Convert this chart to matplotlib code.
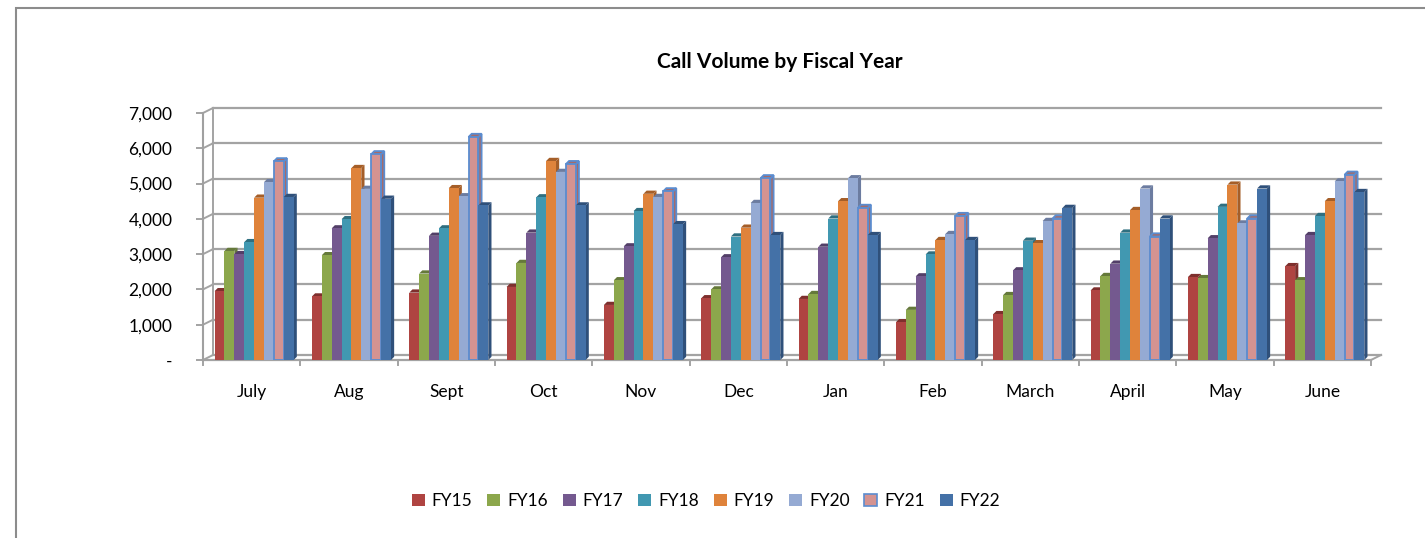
import matplotlib
matplotlib.use("Agg")
import matplotlib.pyplot as plt
import numpy as np
from matplotlib.patches import Polygon, Patch, Rectangle

plt.rcParams['font.family'] = ['Lato', 'DejaVu Sans']

months = ["July", "Aug", "Sept", "Oct", "Nov", "Dec", "Jan", "Feb", "March", "April", "May", "June"]
series_names = ["FY15", "FY16", "FY17", "FY18", "FY19", "FY20", "FY21", "FY22"]

fy15 = [1950, 1800, 1910, 2070, 1560, 1750, 1730, 1070, 1300, 1970, 2350, 2660]
fy16 = [3090, 2970, 2450, 2750, 2260, 2000, 1870, 1420, 1840, 2380, 2320, 2260]
fy17 = [3000, 3730, 3520, 3610, 3220, 2910, 3210, 2370, 2540, 2730, 3450, 3540]
fy18 = [3340, 3990, 3730, 4610, 4220, 3500, 4010, 2990, 3380, 3610, 4340, 4080]
fy19 = [4600, 5440, 4870, 5640, 4710, 3750, 4500, 3400, 3310, 4250, 4970, 4500]
fy20 = [5040, 4850, 4640, 5330, 4620, 4450, 5150, 3570, 3940, 4860, 3870, 5060]
fy21 = [5630, 5830, 6320, 5550, 4780, 5150, 4310, 4080, 4010, 3500, 4010, 5250]
fy22 = [4620, 4570, 4380, 4380, 3850, 3540, 3540, 3400, 4310, 4010, 4860, 4760]
data = [fy15, fy16, fy17, fy18, fy19, fy20, fy21, fy22]

front_colors = ["#AF4441", "#8CA74C", "#74598F", "#4198B1", "#DF833B", "#95AAD3", "#D49391", "#4471A7"]
dark_colors = ["#7E2F2D", "#65793A", "#533F68", "#2F6F80", "#A55E28", "#6C7CA0", "#A56B6A", "#2F507A"]
edge21 = "#5B8CCF"

W, H = 1425, 538
fig = plt.figure(figsize=(W / 100, H / 100), dpi=100)

# outer chart border
fig.add_artist(Rectangle((16 / W, -0.1), 1.2, 1 - 7.5 / H + 0.1, transform=fig.transFigure,
                         fill=False, edgecolor="#8C8C8C", linewidth=1.5))

ax_l, ax_r, ax_b, ax_t = 203, 1371, 360, 113
ax = fig.add_axes([ax_l / W, 1 - ax_b / H, (ax_r - ax_l) / W, (ax_b - ax_t) / H])
ax.set_xlim(-0.5, len(months) - 0.5)
ax.set_ylim(0, 7000)
ax.patch.set_alpha(0)
for s in ["top", "right", "bottom"]:
    ax.spines[s].set_visible(False)
ax.spines["left"].set_color("#A0A0A0")
ax.spines["left"].set_linewidth(1.5)

px_x = (len(months)) / (ax_r - ax_l)       # data units per pixel (x)
px_y = 7000 / (ax_b - ax_t)                # data units per pixel (y)

grid_c = "#A3A3A3"
# back-wall gridlines and depth diagonals
ddx, ddy = 10 * px_x, 5 * px_y
yt = np.arange(0, 7001, 1000)
for v in yt:
    ax.plot([-0.5 + ddx, len(months) - 0.5 + ddx], [v + ddy, v + ddy], color=grid_c, lw=1.6,
            clip_on=False, zorder=0.5)
    ax.plot([-0.5, -0.5 + ddx], [v, v + ddy], color=grid_c, lw=1.4, clip_on=False, zorder=0.5)
ax.plot([-0.5 + ddx, -0.5 + ddx], [ddy, 7000 + ddy], color=grid_c, lw=1.4, clip_on=False, zorder=0.5)
# floor front edge and right diagonal
ax.plot([-0.5, len(months) - 0.5], [0, 0], color=grid_c, lw=1.6, clip_on=False, zorder=0.6)
ax.plot([len(months) - 0.5, len(months) - 0.5 + ddx], [0, ddy], color=grid_c, lw=1.4,
        clip_on=False, zorder=0.6)
# category tick marks
for k in range(len(months) + 1):
    ax.plot([k - 0.5, k - 0.5], [0, -5 * px_y], color=grid_c, lw=1.4, clip_on=False)

# bars
bw = 0.1015
sx, sy = 3.2 * px_x, 3.2 * px_y
x = np.arange(len(months))
for j, vals in enumerate(data):
    for i, h in enumerate(vals):
        x0 = x[i] + 0.025 + (j - 4) * bw
        x1 = x0 + bw
        ec = edge21 if j == 6 else "none"
        lw = 1.3 if j == 6 else 0
        side = Polygon([(x1, 0), (x1 + sx, sy), (x1 + sx, h + sy), (x1, h)], closed=True,
                       facecolor=dark_colors[j], edgecolor=ec, lw=lw, zorder=2 + j * 0.1)
        top = Polygon([(x0, h), (x0 + sx, h + sy), (x1 + sx, h + sy), (x1, h)], closed=True,
                      facecolor=dark_colors[j], edgecolor=ec, lw=lw, zorder=2 + j * 0.1)
        front = Rectangle((x0, 0), bw, h, facecolor=front_colors[j], edgecolor=ec, lw=lw,
                          zorder=2 + j * 0.1 + 0.05)
        ax.add_patch(side)
        ax.add_patch(top)
        ax.add_patch(front)

ax.set_yticks(yt)
ax.set_yticklabels(["-"] + [f"{v:,}" for v in yt[1:]], fontsize=12.5)
ax.tick_params(axis="y", length=5, width=1.4, color=grid_c, pad=17)
ax.set_xticks(x)
ax.set_xticklabels(months, fontsize=12.5)
ax.tick_params(axis="x", length=0, pad=17)

fig.text(780 / W, 1 - 62 / H, "Call Volume by Fiscal Year", ha="center", va="center",
         fontsize=15, fontweight="bold")

handles = []
for j, name in enumerate(series_names):
    if j == 6:
        handles.append(Patch(facecolor=front_colors[j], edgecolor=edge21, lw=1.2, label=name))
    else:
        handles.append(Patch(facecolor=front_colors[j], edgecolor="none", label=name))
fig.legend(handles=handles, loc="center", bbox_to_anchor=(706 / W, 1 - 501 / H), ncol=8,
           frameon=False, fontsize=12.5, handlelength=0.75, handleheight=0.75,
           handletextpad=0.4, columnspacing=0.85)

fig.savefig("out.png", dpi=100)
